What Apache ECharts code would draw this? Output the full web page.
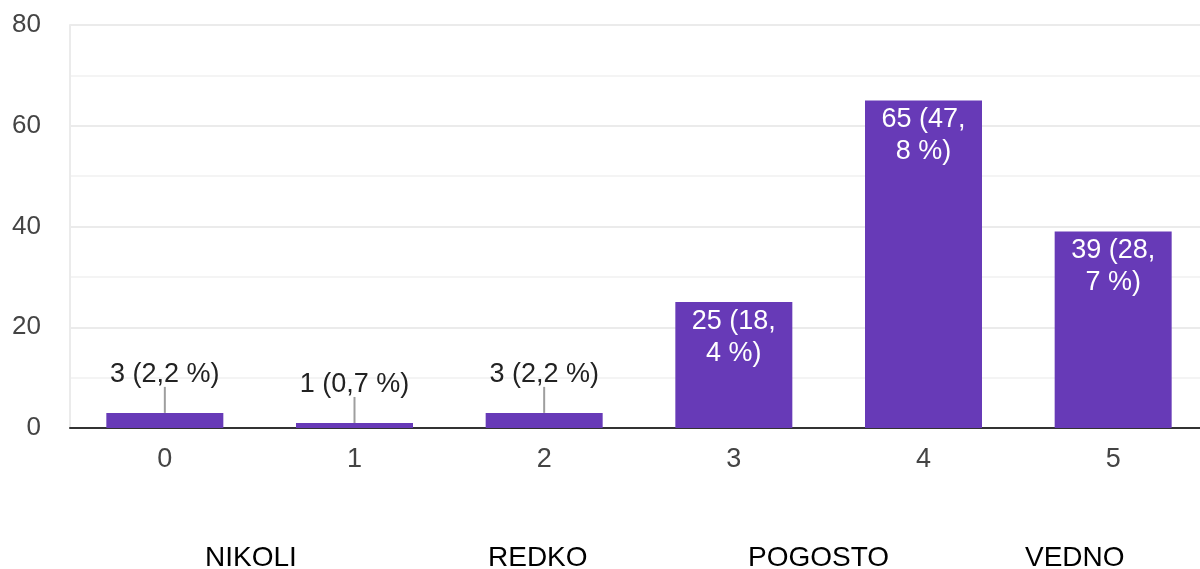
<!DOCTYPE html>
<html>
<head>
<meta charset="utf-8">
<script src="https://cdn.jsdelivr.net/npm/echarts@6/dist/echarts.min.js"></script>
<style>
  html, body { margin: 0; padding: 0; background: #fff; }
  #chart { width: 1200px; height: 569px; }
</style>
</head>
<body>
<div id="chart"></div>
<script>
// Answer scale 0–5 with response counts and their shares
const categories = ['0', '1', '2', '3', '4', '5'];
const counts = [3, 1, 3, 25, 65, 39];
const shares = ['2,2', '0,7', '2,2', '18,4', '47,8', '28,7'];
const yTicks = [0, 20, 40, 60, 80];
const scaleWords = ['NIKOLI', 'REDKO', 'POGOSTO', 'VEDNO'];

const FONT = '"Liberation Sans", Arial, sans-serif';
const PURPLE = '#673ab7';
const OUTSIDE_LIMIT = 10;   // short bars carry their label above, with a leader line
const LEADER = 26;          // leader line length in px

const barData = counts.map((v, i) => {
  const outside = v < OUTSIDE_LIMIT;
  return {
    value: v,
    label: outside
      ? { position: 'top', distance: 22, color: '#222',
          formatter: `${v} (${shares[i]} %)` }
      : { position: 'insideTop', distance: 3, color: '#fff',
          formatter: `${v} (${shares[i].replace(',', ',\n')} %)` }
  };
});

const leaderData = counts
  .map((v, i) => [i, v])
  .filter(d => d[1] < OUTSIDE_LIMIT);

const chart = echarts.init(document.getElementById('chart'));
chart.setOption({
  backgroundColor: '#fff',
  animation: false,
  textStyle: { fontFamily: FONT },
  grid: {
    left: 70, top: 25, width: 1138, height: 403,
    containLabel: false, outerBoundsMode: 'none'
  },
  xAxis: {
    type: 'category',
    data: categories,
    axisLine: { show: true, onZero: true, lineStyle: { color: '#333', width: 2 } },
    axisTick: { show: false },
    axisLabel: { color: '#444', fontSize: 27, margin: 18, fontFamily: FONT },
    splitLine: { show: false }
  },
  yAxis: {
    type: 'value',
    min: yTicks[0],
    max: yTicks[yTicks.length - 1],
    interval: 20,
    axisLine: { show: true, lineStyle: { color: '#ebebeb', width: 2 } },
    axisTick: { show: false },
    axisLabel: { color: '#444', fontSize: 26, margin: 29, fontFamily: FONT },
    splitLine: { show: true, lineStyle: { color: '#ebebeb', width: 2 } },
    minorTick: { show: false, splitNumber: 2 },
    minorSplitLine: { show: true, lineStyle: { color: '#f4f4f4', width: 2 } }
  },
  series: [
    {
      type: 'bar',
      data: barData,
      barWidth: 117,
      itemStyle: { color: PURPLE },
      label: {
        show: true,
        fontSize: 27,
        lineHeight: 32,
        fontFamily: FONT,
        align: 'center'
      },
      z: 2
    },
    {
      type: 'custom',
      data: leaderData,
      silent: true,
      z: 3,
      renderItem: function (params, api) {
        const p = api.coord([api.value(0), api.value(1)]);
        return {
          type: 'line',
          shape: { x1: p[0], y1: p[1], x2: p[0], y2: p[1] - LEADER },
          style: { stroke: '#9e9e9e', lineWidth: 2 }
        };
      }
    }
  ],
  graphic: scaleWords.map((w, i) => ({
    type: 'text',
    left: [205, 488, 748, 1025][i],
    top: 544,
    style: { text: w, fontSize: 28, fill: '#000', fontFamily: FONT }
  }))
});
</script>
</body>
</html>
